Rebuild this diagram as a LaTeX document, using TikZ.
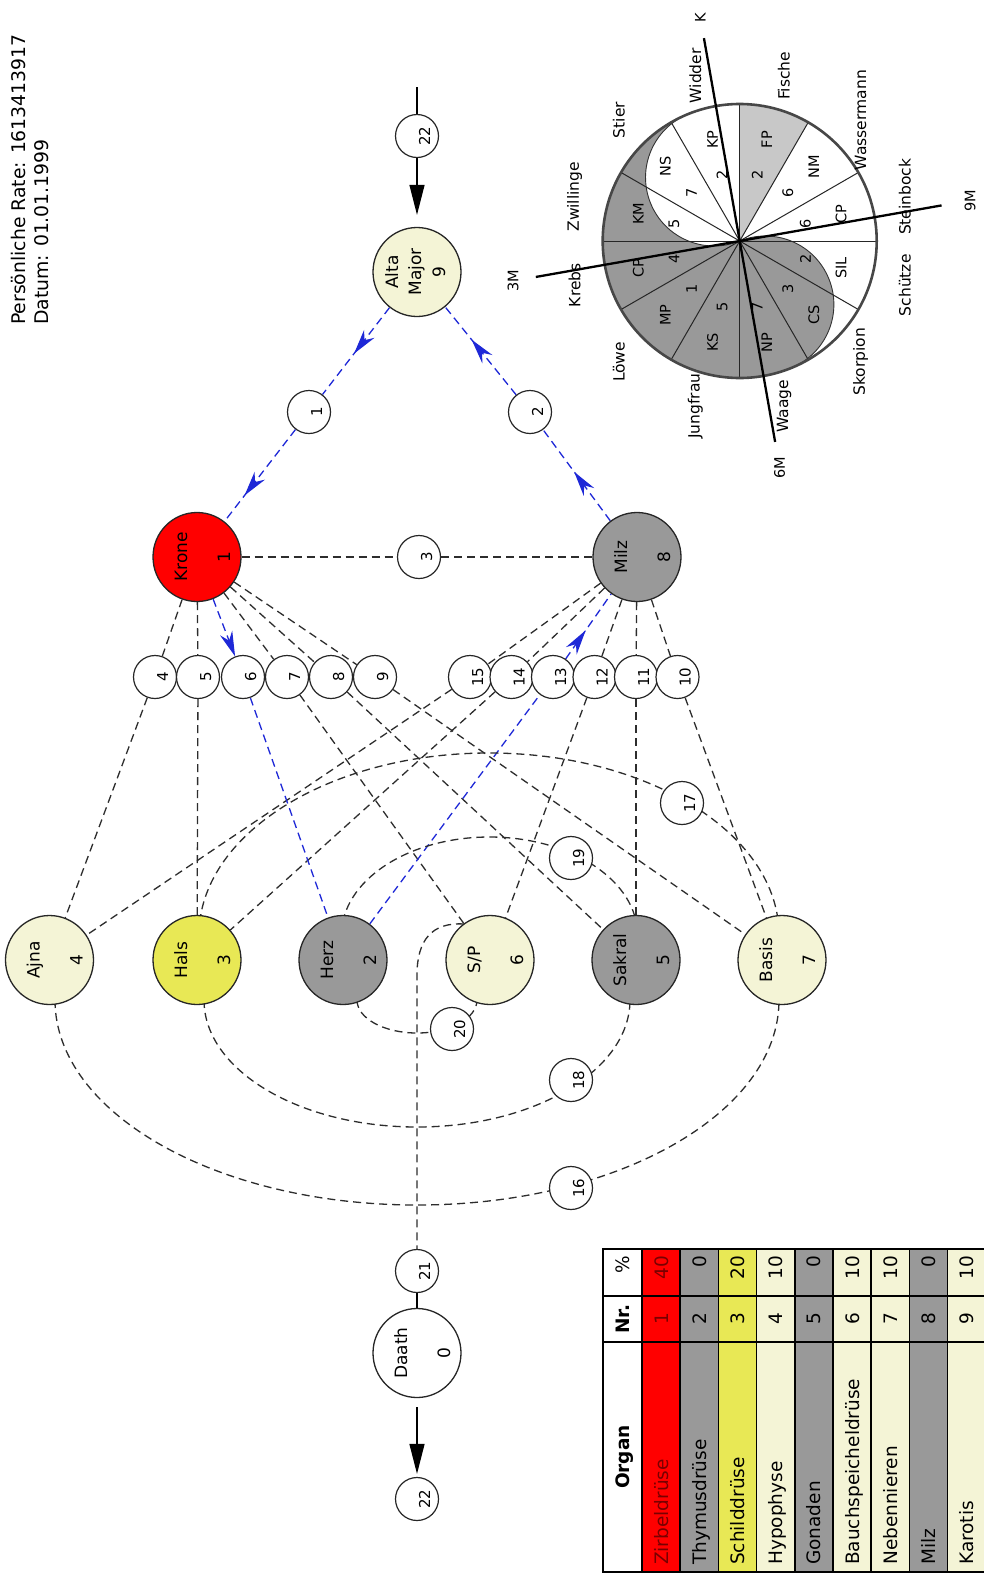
\documentclass[tikz,border=0pt]{standalone}
\usepackage{fontspec}
\setmainfont{DejaVu Sans}
\usetikzlibrary{arrows.meta,decorations.markings,shapes.geometric}
\pgfdeclarelayer{background}
\pgfsetlayers{background,main}
\definecolor{cred}{RGB}{255,0,0}
\definecolor{cgray}{RGB}{153,153,153}
\definecolor{clight}{RGB}{244,244,214}
\definecolor{cyellow}{RGB}{232,232,85}
\definecolor{cblue}{RGB}{30,40,215}
\definecolor{cedge}{RGB}{45,45,45}
\definecolor{cpale}{RGB}{200,200,200}
\definecolor{cdred}{RGB}{120,0,0}
\tikzset{
  bignode/.style={ellipse, draw=black!85, line width=1.3pt, minimum width=88pt, minimum height=89pt, inner sep=0pt},
  smallnode/.style={circle, draw=black!85, line width=1.2pt, fill=white, minimum size=43pt, inner sep=0pt, rotate=90, text height=26pt, text depth=0pt, font=\fontsize{15}{18}\selectfont},
  lbl/.style={rotate=90, anchor=base, inner sep=0pt, font=\fontsize{17}{20}\selectfont},
  edge/.style={draw=cedge, line width=1.3pt, dash pattern=on 8pt off 5pt},
  bedge/.style={draw=cblue, line width=1.3pt, dash pattern=on 8pt off 5pt},
  marrow/.style={postaction={decorate, decoration={markings, mark=at position #1 with {\arrow{Stealth[length=25pt,width=13pt]}}}}},
  sarrow/.style={draw=black, line width=1.3pt, -{Triangle[length=30pt,width=15pt]}},
  sline/.style={draw=black, line width=1.3pt},
  tbl/.style={rotate=90, inner sep=0pt, font=\fontsize{18.5}{22}\selectfont},
  wname/.style={rotate=90, inner sep=0pt, font=\fontsize{15.5}{18}\selectfont},
  wcode/.style={rotate=90, inner sep=0pt, font=\fontsize{14.5}{17}\selectfont},
  waxis/.style={rotate=90, inner sep=0pt, font=\fontsize{14.5}{17}\selectfont},
  ttl/.style={rotate=90, anchor=base west, inner sep=0pt, font=\fontsize{18.8}{22}\selectfont}
}
\begin{document}
\begin{tikzpicture}[x=1pt,y=-1pt]
\useasboundingbox (0,0) rectangle (983,1577);

% title
\node[ttl] (title1) at (25,325) {Persönliche Rate: 1613413917};
\node[ttl] (title2) at (48,325) {Datum: 01.01.1999};

% big nodes
\node[bignode, fill=clight] (AM) at (417,272) {};
\node[lbl] (AMt1) at (398,272) {Alta};
\node[lbl] (AMt2) at (421,272) {Major};
\node[lbl] (AMt3) at (445,272) {9};

\node[bignode, fill=cred] (Krone) at (197,557) {};
\node[lbl] (Kronet) at (187,557) {Krone};
\node[lbl] (Kronen) at (230,557) {1};
\node[bignode, fill=cgray] (Milz) at (637,557) {};
\node[lbl] (Milzt) at (627,557) {Milz};
\node[lbl] (Milzn) at (670,557) {8};

\node[bignode, fill=clight] (Ajna) at (49.5,960) {};
\node[lbl] (Ajnat) at (39.5,960) {Ajna};
\node[lbl] (Ajnan) at (82.5,960) {4};
\node[bignode, fill=cyellow] (Hals) at (197,960) {};
\node[lbl] (Halst) at (187,960) {Hals};
\node[lbl] (Halsn) at (230,960) {3};
\node[bignode, fill=cgray] (Herz) at (343,960) {};
\node[lbl] (Herzt) at (333,960) {Herz};
\node[lbl] (Herzn) at (376,960) {2};
\node[bignode, fill=clight] (SP) at (490,960) {};
\node[lbl] (SPt) at (480,960) {S/P};
\node[lbl] (SPn) at (523,960) {6};
\node[bignode, fill=cgray] (Sakral) at (636,960) {};
\node[lbl] (Sakralt) at (626,960) {Sakral};
\node[lbl] (Sakraln) at (669,960) {5};
\node[bignode, fill=clight] (Basis) at (782,960) {};
\node[lbl] (Basist) at (772,960) {Basis};
\node[lbl] (Basisn) at (815,960) {7};

\node[bignode, fill=white] (Daath) at (417,1353) {};
\node[lbl] (Daatht) at (407,1353) {Daath};
\node[lbl] (Daathn) at (450,1353) {0};

% small nodes
\node[smallnode] (top22) at (417,136) {22};
\node[smallnode] (bot22) at (417,1499) {22};
\node[smallnode] (n1) at (309,412) {1};
\node[smallnode] (n2) at (530,412) {2};
\node[smallnode] (n3) at (419,557) {3};
\node[smallnode] (n4) at (155,677) {4};
\node[smallnode] (n5) at (198,677) {5};
\node[smallnode] (n6) at (243,677) {6};
\node[smallnode] (n7) at (287,677) {7};
\node[smallnode] (n8) at (331,677) {8};
\node[smallnode] (n9) at (375,677) {9};
\node[smallnode] (n15) at (470,677) {15};
\node[smallnode] (n14) at (511.5,677) {14};
\node[smallnode] (n13) at (553,677) {13};
\node[smallnode] (n12) at (594.5,677) {12};
\node[smallnode] (n11) at (636,677) {11};
\node[smallnode] (n10) at (677.5,677) {10};
\node[smallnode] (n16) at (571,1188) {16};
\node[smallnode] (n17) at (682,803) {17};
\node[smallnode] (n18) at (571,1080) {18};
\node[smallnode] (n19) at (571,858) {19};
\node[smallnode] (n20) at (452,1029) {20};
\node[smallnode] (n21) at (417,1271) {21};

\coordinate (topend) at (417,87);
\coordinate (spl) at (464,924);
\coordinate (a16) at (55,1000);
\coordinate (a18) at (204,1000);
\coordinate (a20) at (357,1000);
\coordinate (a17) at (199,935);
\coordinate (a19) at (341.5,935);

\begin{pgfonlayer}{background}
\fill[white] (0,0) rectangle (983,1577);
% dashed edges
\draw[edge] (Krone) -- (n3) -- (Milz);
\foreach \n in {n4,n5,n7,n8,n9} \draw[edge] (Krone) -- (\n);
\foreach \n in {n15,n14,n12,n11,n10} \draw[edge] (Milz) -- (\n);
\draw[edge] (n4) -- (Ajna);
\draw[edge] (n5) -- (Hals);
\draw[edge] (n7) -- (SP);
\draw[edge] (n8) -- (Sakral);
\draw[edge] (n9) -- (Basis);
\draw[edge] (n15) -- (Ajna);
\draw[edge] (n14) -- (Hals);
\draw[edge] (n12) -- (SP);
\draw[edge] (n11) -- (Sakral);
\draw[edge] (n10) -- (Basis);
% blue
\draw[bedge, marrow=0.53] (AM) -- (n1);
\draw[bedge, marrow=0.72] (n1) -- (Krone);
\draw[bedge, marrow=0.54] (Milz) -- (n2);
\draw[bedge, marrow=0.63] (n2) -- (AM);
\draw[bedge, -{Stealth[length=25pt,width=13pt]}] (Krone) -- (n6);
\draw[bedge] (n6) -- (Herz);
\draw[bedge] (Herz) -- (n13);
\draw[bedge, marrow=0.44] (n13) -- (Milz);
% arcs
\draw[edge] (a16) arc[start angle=180, end angle=0, x radius=362, y radius=205];
\draw[edge] (a18) arc[start angle=180, end angle=0, x radius=213, y radius=127];
\draw[edge] (a20) arc[start angle=180, end angle=0, x radius=60, y radius=33];
\draw[edge] (a17) arc[start angle=180, end angle=360, x radius=290, y radius=182];
\draw[edge] (a19) arc[start angle=180, end angle=360, x radius=148, y radius=98];
\draw[edge] (spl) .. controls (432,922) and (417,940) .. (417,975) -- (n21);
% solid
\draw[sline] (topend) -- (top22);
\draw[sarrow, shorten >=12pt] (top22) -- (AM);
\draw[sline] (n21) -- (Daath);
\draw[sarrow, shorten <=9pt, shorten >=3pt] (Daath) -- (bot22);
\end{pgfonlayer}

% wheel
\begin{scope}[shift={(739.7,241)}]
\begin{scope}[y=1pt]
\fill[white] (0,0) circle[radius=137];
\fill[cpale] (0,0) -- (60:137) arc[start angle=60, end angle=90, radius=137] -- cycle;
\filldraw[fill=cgray, draw=black!80, line width=0.9pt] (112:137) arc[start angle=112, end angle=292, radius=137] arc[start angle=292, end angle=472, radius=68.5] arc[start angle=292, end angle=112, radius=68.5] -- cycle;
\foreach \a in {0,30,...,330} \draw[line width=1pt, black!85] (0,0) -- (\a:137);
\draw[line width=2.6pt, draw=black!72] (0,0) circle[radius=137];
\foreach \a/\nm/\cd/\nu in {15/Steinbock/CP/6, 45/Wassermann/NM/6, 75/Fische/FP/2, 105/Widder/KP/2, 135/Stier/NS/7, 165/Zwillinge/KM/5, 195/Krebs/CP/4, 225/Löwe/MP/1, 255/Jungfrau/KS/5, 285/Waage/NP/7, 315/Skorpion/CS/3, 345/Schütze/SIL/2}
{
  \node[wname] (z\a) at (\a:171) {\nm};
  \node[wcode] (c\a) at (\a:105) {\cd};
  \node[wcode] (d\a) at (\a:68) {\nu};
}
\draw[line width=2.3pt] (100:206) -- (280:204);
\draw[line width=2.3pt] (10:205) -- (190:207);
\node[waxis] (axK) at (100:227) {K};
\node[waxis] (ax6) at (280:230) {6M};
\node[waxis] (ax9) at (10:234) {9M};
\node[waxis] (ax3) at (190:230) {3M};
\end{scope}
\end{scope}

% table
\filldraw[fill=white, draw=black, line width=1.6pt] (603,1249) rectangle (642,1572);
\draw[line width=1.6pt] (603,1296) -- (642,1296);
\draw[line width=1.6pt] (603,1342) -- (642,1342);
\node[tbl, anchor=base, font=\fontsize{18.5}{22}\selectfont\bfseries] (hOrgan) at (629.5,1457) {Organ};
\node[tbl, anchor=base, font=\fontsize{18.5}{22}\selectfont\bfseries] (hNr) at (629.5,1319) {Nr.};
\node[tbl, anchor=base east] (hPct) at (629.5,1256) {\%};
\foreach \i/\org/\nr/\pct/\col/\tc in {1/Zirbeldrüse/1/40/cred/cdred, 2/Thymusdrüse/2/0/cgray/black, 3/Schilddrüse/3/20/cyellow/black, 4/Hypophyse/4/10/clight/black, 5/Gonaden/5/0/cgray/black, 6/Bauchspeicheldrüse/6/10/clight/black, 7/Nebennieren/7/10/clight/black, 8/Milz/8/0/cgray/black, 9/Karotis/9/10/clight/black}
{
  \pgfmathsetmacro\xa{642+38.2*(\i-1)}
  \pgfmathsetmacro\xc{\xa+26.1}
  \filldraw[fill=\col, draw=black, line width=1.6pt] (\xa,1249) rectangle ++(38.2,323);
  \draw[line width=1.6pt] (\xa,1296) -- ++(38.2,0);
  \draw[line width=1.6pt] (\xa,1342) -- ++(38.2,0);
  \node[tbl, anchor=base west, text=\tc] (org\i) at (\xc,1565) {\org};
  \node[tbl, anchor=base, text=\tc] (nr\i) at (\xc,1319) {\nr};
  \node[tbl, anchor=base east, text=\tc] (pct\i) at (\xc,1256) {\pct};
}
\end{tikzpicture}
\end{document}
